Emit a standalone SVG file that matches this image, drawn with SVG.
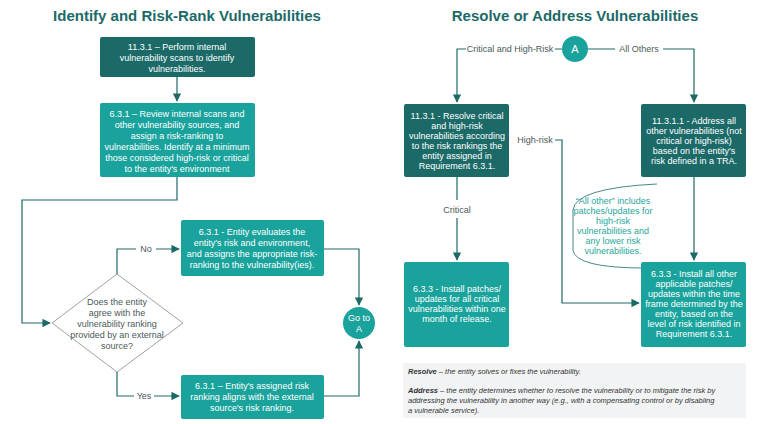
<svg xmlns="http://www.w3.org/2000/svg" width="768" height="424" viewBox="0 0 768 424">
<style>
text{font-family:"Liberation Sans",Arial,sans-serif}
.t{font-size:15px;font-weight:bold;fill:#1c6a68;text-anchor:middle}
.w{font-size:9px;fill:#fff;text-anchor:middle}
.g{font-size:9px;fill:#4a5a5a;text-anchor:middle}
.c{font-size:9px;fill:#26a69a;text-anchor:middle}
.n{font-size:7.5px;fill:#333;font-style:italic}
.dk{fill:#1c6a68}
.tl{fill:#1aa39c}
.ln{fill:none;stroke:#1c6a68;stroke-width:1.2}
</style>
<defs><marker id="a" viewBox="0 0 10 10" refX="9" refY="5" markerWidth="7" markerHeight="7" orient="auto"><path d="M0,0L10,5L0,10z" fill="#1c6a68"/></marker></defs>
<rect width="768" height="424" fill="#fff"/>
<text class="t" x="187" y="21">Identify and Risk-Rank Vulnerabilities</text>
<text class="t" x="575" y="21">Resolve or Address Vulnerabilities</text>
<g id="connectors">
<path class="ln" d="M177,77V101" marker-end="url(#a)"/>
<path class="ln" d="M177,177V200H22V323H50" marker-end="url(#a)"/>
<path class="ln" d="M117,274V249H136M156,249H179" marker-end="url(#a)"/>
<text class="g" x="146" y="252">No</text>
<path class="ln" d="M117,372V396H134M154,396H179" marker-end="url(#a)"/>
<text class="g" x="144" y="399">Yes</text>
<path class="ln" d="M324,249H359V305" marker-end="url(#a)"/>
<path class="ln" d="M324,396H359V341" marker-end="url(#a)"/>
<path class="ln" d="M562,49H555M466,49H457V102" marker-end="url(#a)"/>
<text class="g" x="510" y="52">Critical and High-Risk</text>
<path class="ln" d="M588,49H615M663,49H694V102" marker-end="url(#a)"/>
<text class="g" x="639" y="52">All Others</text>
<path class="ln" d="M457,177V200M457,218V260" marker-end="url(#a)"/>
<text class="g" x="457" y="213">Critical</text>
<path class="ln" d="M555,140H562V303H639" marker-end="url(#a)"/>
<text class="g" x="535" y="143">High-risk</text>
<path class="ln" d="M694,177V260" marker-end="url(#a)"/>
<path d="M657,184Q575,188 573,210V250Q575,268 645,268" fill="none" stroke="#1c6a68" stroke-width="0.8"/>
</g>
<g id="n1"><rect class="dk" x="100" y="37" width="155" height="40" rx="2"/>
<text class="w" x="177" y="50">11.3.1 – Perform internal</text><text class="w" x="177" y="61">vulnerability scans to identify</text><text class="w" x="177" y="72">vulnerabilities.</text></g>
<g id="n2"><rect class="tl" x="100" y="103" width="155" height="74" rx="2"/>
<text class="w" x="177" y="117">6.3.1 – Review internal scans and</text><text class="w" x="177" y="128">other vulnerability sources, and</text><text class="w" x="177" y="139">assign a risk-ranking to</text><text class="w" x="177" y="150">vulnerabilities. Identify at a minimum</text><text class="w" x="177" y="161">those considered high-risk or critical</text><text class="w" x="177" y="172">to the entity's environment</text></g>
<g id="d1"><polygon points="117,274 183,323 117,372 52,323" fill="#fff" stroke="#888" stroke-width="0.8"/>
<text class="g" x="117" y="305">Does the entity</text><text class="g" x="117" y="316">agree with the</text><text class="g" x="117" y="327">vulnerability ranking</text><text class="g" x="117" y="338">provided by an external</text><text class="g" x="117" y="349">source?</text></g>
<g id="n3"><rect class="tl" x="181" y="220" width="143" height="56" rx="2"/>
<text class="w" x="252" y="235">6.3.1 - Entity evaluates the</text><text class="w" x="252" y="246">entity's risk and environment,</text><text class="w" x="252" y="257">and assigns the appropriate risk-</text><text class="w" x="252" y="268">ranking to the vulnerability(ies).</text></g>
<g id="n4"><rect class="tl" x="181" y="375" width="143" height="44" rx="2"/>
<text class="w" x="252" y="389">6.3.1 – Entity's assigned risk</text><text class="w" x="252" y="400">ranking aligns with the external</text><text class="w" x="252" y="411">source's risk ranking.</text></g>
<g id="goA"><circle class="tl" cx="359" cy="323" r="16"/>
<text class="w" x="359" y="321">Go to</text><text class="w" x="359" y="332">A</text></g>
<g id="A"><circle class="tl" cx="575" cy="49" r="13"/><text class="w" x="575" y="53" style="font-size:11px">A</text></g>
<g id="r1"><rect class="dk" x="404" y="104" width="105" height="73" rx="2"/>
<text class="w" x="457" y="119">11.3.1 - Resolve critical</text><text class="w" x="457" y="129">and high-risk</text><text class="w" x="457" y="139">vulnerabilities according</text><text class="w" x="457" y="149">to the risk rankings the</text><text class="w" x="457" y="159">entity assigned in</text><text class="w" x="457" y="169">Requirement 6.3.1.</text></g>
<g id="r2"><rect class="dk" x="641" y="104" width="105" height="73" rx="2"/>
<text class="w" x="694" y="124">11.3.1.1 - Address all</text><text class="w" x="694" y="134">other vulnerabilities (not</text><text class="w" x="694" y="144">critical or high-risk)</text><text class="w" x="694" y="154">based on the entity's</text><text class="w" x="694" y="164">risk defined in a TRA.</text></g>
<g id="r3"><rect class="tl" x="404" y="262" width="105" height="85" rx="2"/>
<text class="w" x="457" y="292">6.3.3 - Install patches/</text><text class="w" x="457" y="302">updates for all critical</text><text class="w" x="457" y="312">vulnerabilities within one</text><text class="w" x="457" y="322">month of release.</text></g>
<g id="r4"><rect class="tl" x="641" y="262" width="105" height="85" rx="2"/>
<text class="w" x="694" y="277">6.3.3 - Install all other</text><text class="w" x="694" y="287">applicable patches/</text><text class="w" x="694" y="297">updates within the time</text><text class="w" x="694" y="307">frame determined by the</text><text class="w" x="694" y="317">entity, based on the</text><text class="w" x="694" y="327">level of risk identified in</text><text class="w" x="694" y="337">Requirement 6.3.1.</text></g>
<g id="callout">
<text class="c" x="613" y="204">“All other” includes</text><text class="c" x="613" y="214">patches/updates for</text><text class="c" x="613" y="224">high-risk</text><text class="c" x="613" y="234">vulnerabilities and</text><text class="c" x="613" y="244">any lower risk</text><text class="c" x="613" y="254">vulnerabilities.</text></g>
<g id="note"><rect x="403" y="363" width="343" height="55" rx="2" fill="#f1f3f4"/>
<text class="n" x="408" y="374"><tspan font-weight="bold">Resolve</tspan> – the entity solves or fixes the vulnerability.</text>
<text class="n" x="408" y="393"><tspan font-weight="bold">Address</tspan> – the entity determines whether to resolve the vulnerability or to mitigate the risk by</text>
<text class="n" x="408" y="403">addressing the vulnerability in another way (e.g., with a compensating control or by disabling</text>
<text class="n" x="408" y="413">a vulnerable service).</text></g>
</svg>
